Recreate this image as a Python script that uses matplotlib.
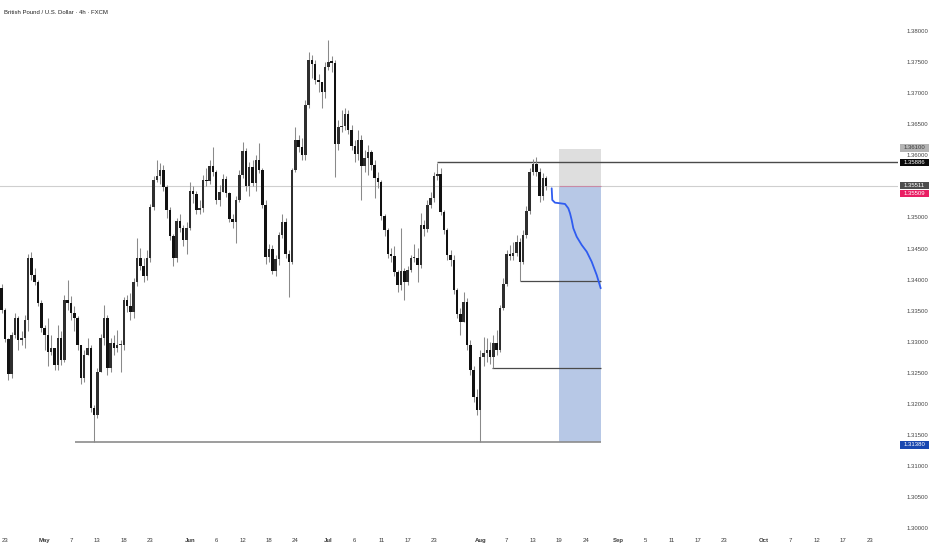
import numpy as np
import matplotlib
matplotlib.use("Agg")
import matplotlib.pyplot as plt
import matplotlib.transforms as mtransforms
from matplotlib.patches import Rectangle

plt.rcParams['font.family'] = ['Liberation Sans', 'DejaVu Sans']

# ---------------- data (12h bars) ----------------
title = "British Pound / U.S. Dollar \u00b7 4h \u00b7 FXCM"
first_open = 1.3387
closes = [
    1.3351, 1.3304, 1.3248, 1.3311, 1.3338, 1.3303, 1.3306, 1.3335, 1.3435, 1.3407,
    1.3396, 1.3362, 1.3322, 1.3311, 1.3284, 1.3290, 1.3263, 1.3306, 1.3271, 1.3367,
    1.3362, 1.3346, 1.3338, 1.3295, 1.3242, 1.3279, 1.3290, 1.3193, 1.3182, 1.3251,
    1.3306, 1.3338, 1.3258, 1.3298, 1.3290, 1.3295, 1.3295, 1.3367, 1.3358, 1.3348,
    1.3396, 1.3435, 1.3422, 1.3406, 1.3435, 1.3517, 1.3560, 1.3567, 1.3576, 1.3549,
    1.3512, 1.3470, 1.3435, 1.3494, 1.3483, 1.3464, 1.3483, 1.3543, 1.3538, 1.3512,
    1.3515, 1.3560, 1.3559, 1.3583, 1.3573, 1.3528, 1.3541, 1.3562, 1.3539, 1.3498,
    1.3493, 1.3528, 1.3568, 1.3607, 1.3551, 1.3581, 1.3556, 1.3593, 1.3576, 1.3520,
    1.3436, 1.3449, 1.3414, 1.3433, 1.3472, 1.3493, 1.3441, 1.3428, 1.3576, 1.3625,
    1.3613, 1.3601, 1.3681, 1.3753, 1.3747, 1.3721, 1.3718, 1.3702, 1.3742, 1.3750,
    1.3749, 1.3618, 1.3646, 1.3647, 1.3667, 1.3641, 1.3615, 1.3602, 1.3625, 1.3583,
    1.3596, 1.3605, 1.3584, 1.3564, 1.3557, 1.3502, 1.3480, 1.3441, 1.3438, 1.3412,
    1.3391, 1.3414, 1.3396, 1.3415, 1.3435, 1.3435, 1.3424, 1.3488, 1.3481, 1.3520,
    1.3531, 1.3567, 1.3570, 1.3509, 1.3480, 1.3440, 1.3432, 1.3383, 1.3345, 1.3332,
    1.3364, 1.3295, 1.3255, 1.3211, 1.3190, 1.3276, 1.3282, 1.3287, 1.3276, 1.3298,
    1.3287, 1.3354, 1.3393, 1.3441, 1.3438, 1.3443, 1.3461, 1.3428, 1.3472, 1.3510,
    1.3573, 1.3586, 1.3573, 1.3535, 1.3564, 1.35511,
]
highs = [
    1.3393, 1.3354, 1.3306, 1.3316, 1.3346, 1.3342, 1.3318, 1.3343, 1.3441, 1.3444,
    1.3419, 1.3399, 1.3367, 1.3327, 1.3338, 1.3311, 1.3290, 1.3327, 1.3318, 1.3375,
    1.3399, 1.3374, 1.3358, 1.3342, 1.3295, 1.3287, 1.3306, 1.3295, 1.3198, 1.3258,
    1.3313, 1.3359, 1.3343, 1.3306, 1.3311, 1.3319, 1.3303, 1.3372, 1.3375, 1.3379,
    1.3403, 1.3467, 1.3451, 1.3435, 1.3448, 1.3522, 1.3567, 1.3593, 1.3588, 1.3584,
    1.3552, 1.3517, 1.3473, 1.3499, 1.3506, 1.3488, 1.3493, 1.3557, 1.3551, 1.3542,
    1.3528, 1.3568, 1.3580, 1.3593, 1.3613, 1.3576, 1.3552, 1.3570, 1.3567, 1.3541,
    1.3506, 1.3535, 1.3576, 1.3621, 1.3612, 1.3589, 1.3593, 1.3601, 1.3620, 1.3580,
    1.3528, 1.3457, 1.3456, 1.3440, 1.3477, 1.3506, 1.3499, 1.3448, 1.3580, 1.3646,
    1.3633, 1.3628, 1.3689, 1.3766, 1.3761, 1.3753, 1.3731, 1.3718, 1.3750, 1.3786,
    1.3760, 1.3753, 1.3657, 1.3673, 1.3676, 1.3673, 1.3649, 1.3625, 1.3641, 1.3633,
    1.3609, 1.3617, 1.3609, 1.3593, 1.3573, 1.3560, 1.3506, 1.3483, 1.3451, 1.3454,
    1.3415, 1.3483, 1.3419, 1.3422, 1.3440, 1.3457, 1.3451, 1.3507, 1.3496, 1.3528,
    1.3541, 1.3573, 1.3588, 1.3580, 1.3512, 1.3483, 1.3448, 1.3440, 1.3387, 1.3354,
    1.3380, 1.3370, 1.3303, 1.3261, 1.3224, 1.3287, 1.3308, 1.3306, 1.3300, 1.3311,
    1.3319, 1.3359, 1.3403, 1.3448, 1.3456, 1.3461, 1.3472, 1.3467, 1.3480, 1.3518,
    1.3580, 1.3594, 1.3597, 1.3580, 1.3572, 1.3567,
]
lows = [
    1.3346, 1.3300, 1.3239, 1.3242, 1.3306, 1.3287, 1.3295, 1.3290, 1.3318, 1.3399,
    1.3391, 1.3358, 1.3316, 1.3287, 1.3261, 1.3279, 1.3255, 1.3255, 1.3263, 1.3267,
    1.3351, 1.3335, 1.3318, 1.3287, 1.3232, 1.3235, 1.3279, 1.3187, 1.3139, 1.3177,
    1.3251, 1.3295, 1.3247, 1.3251, 1.3279, 1.3284, 1.3251, 1.3287, 1.3348, 1.3335,
    1.3338, 1.3390, 1.3415, 1.3396, 1.3399, 1.3428, 1.3512, 1.3557, 1.3554, 1.3542,
    1.3499, 1.3464, 1.3422, 1.3428, 1.3477, 1.3454, 1.3441, 1.3480, 1.3523, 1.3506,
    1.3506, 1.3509, 1.3551, 1.3554, 1.3567, 1.3522, 1.3518, 1.3541, 1.3533, 1.3493,
    1.3483, 1.3459, 1.3525, 1.3564, 1.3542, 1.3535, 1.3551, 1.3542, 1.3572, 1.3515,
    1.3425, 1.3428, 1.3409, 1.3406, 1.3424, 1.3467, 1.3435, 1.3372, 1.3425, 1.3573,
    1.3605, 1.3593, 1.3593, 1.3676, 1.3724, 1.3715, 1.3702, 1.3676, 1.3692, 1.3737,
    1.3734, 1.3565, 1.3609, 1.3638, 1.3641, 1.3634, 1.3609, 1.3589, 1.3593, 1.3528,
    1.3573, 1.3568, 1.3576, 1.3531, 1.3547, 1.3496, 1.3470, 1.3435, 1.3428, 1.3406,
    1.3380, 1.3383, 1.3367, 1.3391, 1.3412, 1.3428, 1.3396, 1.3419, 1.3470, 1.3477,
    1.3515, 1.3525, 1.3560, 1.3504, 1.3473, 1.3432, 1.3422, 1.3377, 1.3338, 1.3311,
    1.3332, 1.3287, 1.3247, 1.3203, 1.3182, 1.3139, 1.3261, 1.3267, 1.3264, 1.3258,
    1.3279, 1.3284, 1.3351, 1.3390, 1.3432, 1.3432, 1.3438, 1.3398, 1.3425, 1.3467,
    1.3506, 1.3568, 1.3567, 1.3525, 1.3528, 1.3544,
]

# annotation levels
support_low = 1.31380
swing_high = 1.35886
level_mid = 1.33980
level_low = 1.32580
last_price = 1.35511
entry_price = 1.35509
stop_price = 1.36100
target_price = 1.31380

# projected path drawn on the chart (trading-day index, price)
path_days = [82.83, 82.92, 83.33, 84.09, 84.85, 85.35, 85.61, 85.86, 86.11,
             86.62, 87.38, 88.14, 88.89, 89.65, 90.26]
path_prices = [1.35469, 1.35281, 1.35238, 1.35228, 1.35217, 1.35147, 1.35067,
               1.34959, 1.34826, 1.34690, 1.34557, 1.34449, 1.34288, 1.34074, 1.33860]

tick_dates = ['2025-04-23', '2025-05-01', '2025-05-07', '2025-05-13', '2025-05-18',
              '2025-05-23', '2025-06-02', '2025-06-06', '2025-06-12', '2025-06-18',
              '2025-06-24', '2025-07-01', '2025-07-06', '2025-07-11', '2025-07-17',
              '2025-07-23', '2025-08-01', '2025-08-07', '2025-08-13', '2025-08-19',
              '2025-08-24', '2025-09-01', '2025-09-05', '2025-09-11', '2025-09-17',
              '2025-09-23', '2025-10-01', '2025-10-07', '2025-10-12', '2025-10-17',
              '2025-10-23']
tick_labels = ['23', 'May', '7', '13', '18', '23', 'Jun', '6', '12', '18', '24',
               'Jul', '6', '11', '17', '23', 'Aug', '7', '13', '19', '24',
               'Sep', '5', '11', '17', '23', 'Oct', '7', '12', '17', '23']
month_names = {'May', 'Jun', 'Jul', 'Aug', 'Sep', 'Oct'}

# ---------------- figure ----------------
W, H = 932, 550
fig = plt.figure(figsize=(W / 100, H / 100), dpi=100)
fig.patch.set_facecolor('white')
ax_bottom_px = 532
ax = fig.add_axes([0, (H - ax_bottom_px) / H, 898 / W, ax_bottom_px / H])
ax.set_facecolor('white')
for s in ax.spines.values():
    s.set_visible(False)

px_per_day = 6.6
px_per_price = 6215.0
ax.set_xlim((0 - 5) / px_per_day, (898 - 5) / px_per_day)
ax.set_ylim(1.38 - (ax_bottom_px - 31) / px_per_price, 1.38 + 31 / px_per_price)

# candles
n = len(closes)
xs = -0.5 + 0.5 * np.arange(n)
opens = [first_open] + closes[:-1]
o = np.array(opens)
c = np.array(closes)
hi = np.maximum.reduce([np.array(highs), o, c])
lo = np.minimum.reduce([np.array(lows), o, c])
up = c >= o
ax.vlines(xs, lo, hi, color='#8a8a8a', lw=0.75, zorder=3)
body_bot = np.minimum(o, c)
body_h = np.maximum(np.abs(c - o), 1.2 / px_per_price)
cols = np.where(up, '#2e2e2e', '#111111')
ax.bar(xs, body_h, bottom=body_bot, width=0.38, color=cols, edgecolor='none',
       linewidth=0, zorder=4)

# position tool boxes
box_x0 = (559 - 5) / px_per_day
box_x1 = (600.5 - 5) / px_per_day
ax.add_patch(Rectangle((box_x0, entry_price), box_x1 - box_x0, stop_price - entry_price,
                       facecolor='#dedede', edgecolor='none', zorder=1))
ax.add_patch(Rectangle((box_x0, target_price), box_x1 - box_x0, entry_price - target_price,
                       facecolor='#b7c8e6', edgecolor='none', zorder=1))

# lines
xr = ax.get_xlim()[1]
ax.axhline(last_price, color='#cfcfcf', lw=0.8, zorder=2)
ax.hlines(entry_price, box_x0, box_x1, color='#c88aa6', lw=0.8, zorder=2)
ax.hlines(support_low, (75 - 5) / px_per_day, box_x1, color='#8c8c8c', lw=1.2, zorder=2)
ax.hlines(swing_high, (437 - 5) / px_per_day, xr, color='#4a4a4a', lw=1.0, zorder=2)
ax.hlines(level_mid, (520 - 5) / px_per_day, box_x1, color='#4a4a4a', lw=0.9, zorder=2)
ax.hlines(level_low, (492 - 5) / px_per_day, box_x1, color='#4a4a4a', lw=0.9, zorder=2)
ax.plot(path_days, path_prices, color='#2f5cf0', lw=1.3, zorder=5,
        solid_capstyle='round', solid_joinstyle='round')

# axes ticks (1.35500 sits under the last-price tag, so it is left blank)
yt = np.round(np.arange(1.30, 1.38001, 0.005), 3)
ax.set_yticks(yt)
ax.set_yticklabels(['' if abs(v - 1.355) < 1e-9 else '%.5f' % v for v in yt])
ax.yaxis.tick_right()
ax.tick_params(axis='y', length=0, pad=5.8, labelsize=4.3, labelcolor='#444444')

tpos = [np.busday_count('2025-04-23', d) for d in tick_dates]
ax.set_xticks(tpos)
ax.set_xticklabels(tick_labels)
for lab in ax.get_xticklabels():
    if lab.get_text() in month_names:
        lab.set_fontweight('bold')
ax.tick_params(axis='x', length=0, pad=4.2, labelsize=4.3, labelcolor='#3a3a3a')

# price tags on the axis
blend = mtransforms.blended_transform_factory(fig.transFigure, ax.transData)
tag_h = 7.5 / px_per_price


def tag(center, text, bg, fg):
    fig.add_artist(Rectangle((900 / W, center - tag_h / 2), 29 / W, tag_h,
                             transform=blend, facecolor=bg, edgecolor='none', zorder=5))
    fig.text(914.5 / W, center, text, transform=blend, ha='center', va='center',
             fontsize=4.3, color=fg, zorder=6)


tag(stop_price + 0.0002, '%.5f' % stop_price, '#b4b4b4', '#3c3c3c')
tag(swing_high, '%.5f' % swing_high, '#0a0a0a', 'white')
tag(last_price, '%.5f' % last_price, '#4d4d4d', 'white')
tag(entry_price - tag_h, '%.5f' % entry_price, '#e91e63', 'white')
tag(target_price - 0.0004, '%.5f' % target_price, '#1847b0', 'white')

fig.text(4 / W, 1 - 12 / H, title, ha='left', va='center', fontsize=4.3, color='#222222')

fig.savefig('out.png', dpi=100, facecolor='white')
